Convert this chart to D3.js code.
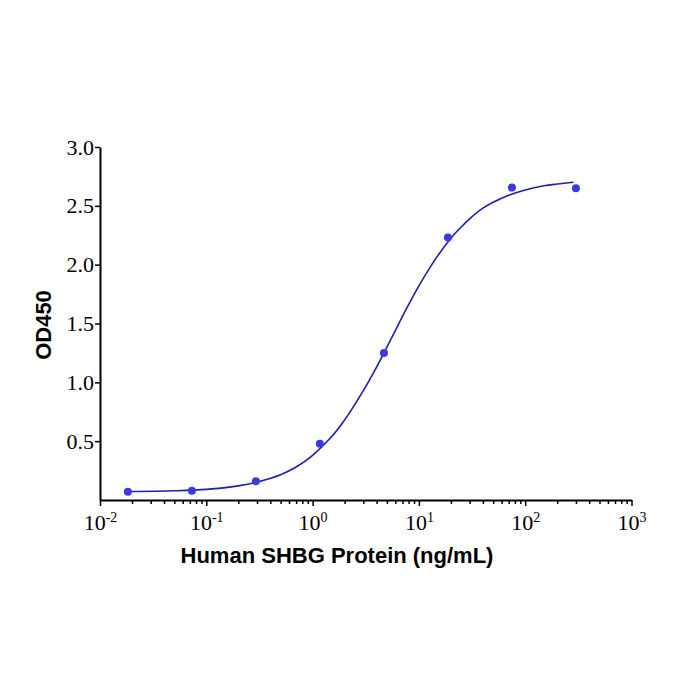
<!DOCTYPE html>
<html>
<head>
<meta charset="utf-8">
<script src="https://cdn.jsdelivr.net/npm/d3@7"></script>
<style>
  body { margin: 0; background: #fff; }
  svg { display: block; }
</style>
</head>
<body>
<svg id="chart"></svg>
<script>
// measured points (ng/mL, OD450)
const concentrations = [0.0183, 0.0732, 0.293, 1.17, 4.69, 18.75, 75, 300];
const od450 = [0.071, 0.078, 0.159, 0.478, 1.25, 2.23, 2.655, 2.65];

// fitted curve
const fitConc = [0.0183, 0.05, 0.1, 0.2, 0.3, 0.5, 0.7, 1, 1.5, 2, 3, 4, 5, 6, 7, 8,
  10, 13, 16, 20, 25, 30, 40, 50, 70, 100, 150, 200, 285];
const fitOd = [0.072, 0.078, 0.09, 0.12, 0.152, 0.215, 0.28, 0.38, 0.535, 0.68, 0.93,
  1.13, 1.3, 1.44, 1.56, 1.66, 1.82, 1.99, 2.11, 2.225, 2.32, 2.39, 2.48, 2.53, 2.59,
  2.635, 2.67, 2.685, 2.7];

const xExponents = [-2, -1, 0, 1, 2, 3];
const yTicks = [0.5, 1.0, 1.5, 2.0, 2.5, 3.0];

const width = 700;
const height = 700;
const margin = { top: 147, right: 68.5, bottom: 200, left: 100 };

const svg = d3.select("#chart").attr("width", width).attr("height", height);

const x = d3
  .scaleLog()
  .domain([0.01, 1000])
  .range([margin.left, width - margin.right]);

const y = d3
  .scaleLinear()
  .domain([0, 3])
  .range([height - margin.bottom, margin.top]);

// minor ticks on the log axis
const minorTicks = [];
xExponents.slice(0, -1).forEach((e) => {
  for (let m = 2; m <= 9; m++) minorTicks.push(m * Math.pow(10, e));
});

const xAxisG = svg
  .append("g")
  .attr("transform", `translate(0, ${y(0)})`);

xAxisG
  .append("g")
  .attr("class", "minor")
  .call(d3.axisBottom(x).tickValues(minorTicks).tickSize(4).tickSizeOuter(0).tickFormat(""));

xAxisG
  .append("g")
  .attr("class", "major")
  .call(
    d3
      .axisBottom(x)
      .tickValues(xExponents.map((e) => Math.pow(10, e)))
      .tickSize(6)
      .tickSizeOuter(0)
  );

xAxisG.selectAll(".major .tick text").each(function (d, i) {
  const t = d3.select(this);
  t.text("").attr("y", 30).attr("dy", 0);
  t.append("tspan").text("10");
  t.append("tspan")
    .attr("dy", -8)
    .attr("font-size", 14)
    .text(xExponents[i]);
});

svg
  .append("g")
  .attr("transform", `translate(${margin.left}, 0)`)
  .call(
    d3
      .axisLeft(y)
      .tickValues(yTicks)
      .tickSize(5)
      .tickPadding(1)
      .tickSizeOuter(0)
      .tickFormat(d3.format(".1f"))
  );

svg.selectAll(".domain").attr("stroke", "#000").attr("stroke-width", 2);
svg.selectAll(".tick line").attr("stroke", "#000").attr("stroke-width", 1.5);
svg
  .selectAll(".tick text")
  .attr("fill", "#000")
  .attr("font-family", "'Liberation Serif', 'Times New Roman', serif")
  .attr("font-size", 22);
xAxisG.selectAll(".minor .domain").remove();

// fitted curve
const line = d3
  .line()
  .x((d, i) => x(fitConc[i]))
  .y((d) => y(d))
  .curve(d3.curveCatmullRom);

svg
  .append("path")
  .datum(fitOd)
  .attr("fill", "none")
  .attr("stroke", "#1f1fae")
  .attr("stroke-width", 1.6)
  .attr("d", line);

// data points
svg
  .append("g")
  .selectAll("circle")
  .data(od450)
  .join("circle")
  .attr("cx", (d, i) => x(concentrations[i]))
  .attr("cy", (d) => y(d))
  .attr("r", 4)
  .attr("fill", "#3a3ae0");

// axis titles
svg
  .append("text")
  .attr("x", 337)
  .attr("y", 563)
  .attr("text-anchor", "middle")
  .attr("font-family", "'Liberation Sans', Arial, sans-serif")
  .attr("font-weight", "bold")
  .attr("font-size", 22)
  .text("Human SHBG Protein (ng/mL)");

svg
  .append("text")
  .attr("transform", "translate(51, 325) rotate(-90)")
  .attr("text-anchor", "middle")
  .attr("font-family", "'Liberation Sans', Arial, sans-serif")
  .attr("font-weight", "bold")
  .attr("font-size", 22)
  .text("OD450");
</script>
</body>
</html>
